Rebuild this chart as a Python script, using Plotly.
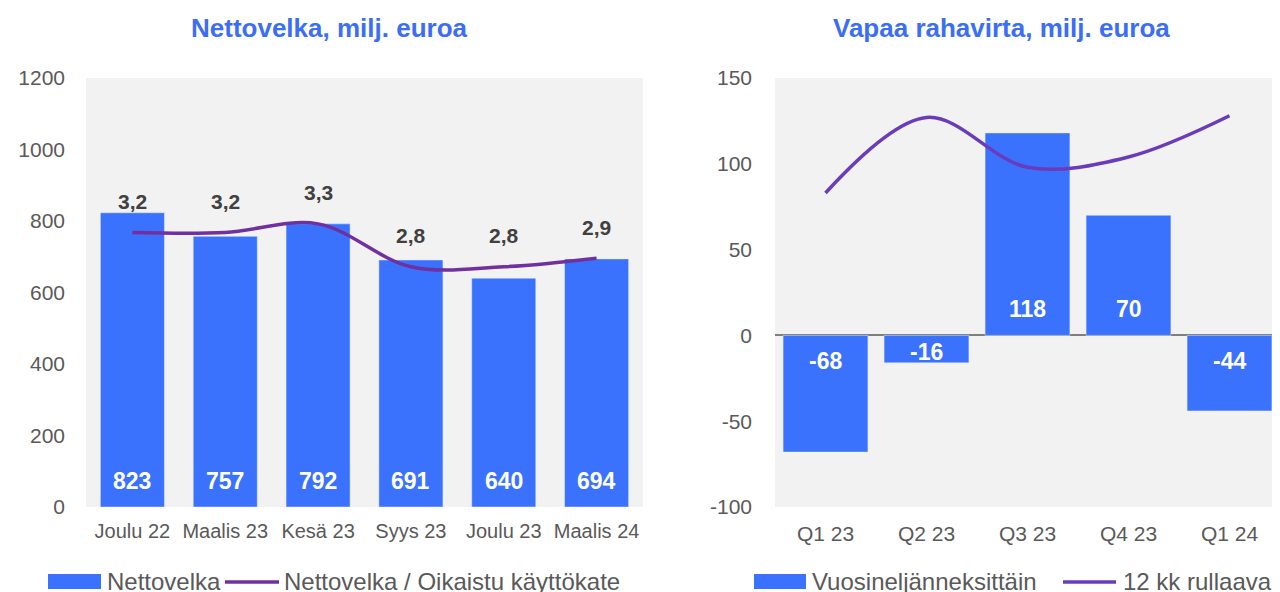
import plotly.graph_objects as go
from plotly.subplots import make_subplots

# ---- data ----
left_categories = ["Joulu 22", "Maalis 23", "Kesä 23", "Syys 23", "Joulu 23", "Maalis 24"]
net_debt = [823, 757, 792, 691, 640, 694]
debt_ratio = [3.2, 3.2, 3.3, 2.8, 2.8, 2.9]
left_ticks = [0, 200, 400, 600, 800, 1000, 1200]

right_categories = ["Q1 23", "Q2 23", "Q3 23", "Q4 23", "Q1 24"]
fcf_quarterly = [-68, -16, 118, 70, -44]
fcf_rolling = [83, 127, 98, 104, 128]
right_ticks = [-100, -50, 0, 50, 100, 150]

# ---- styles ----
BLUE = "#3a72fd"
PURPLE = "#7030a0"
PURPLE2 = "#6a3cbc"
TITLE_BLUE = "#3b6ef5"
TXT = "#595959"
FONT = "Liberation Sans, Arial, sans-serif"
W, H = 1280, 592
OFF = 8  # page body margin offset
FW, FH = W - OFF, H - OFF

def px(x):
    return (x - OFF) / FW

def py(y):
    return (H - y) / FH

ydom = [py(507), py(78)]

fig = make_subplots(rows=1, cols=2, specs=[[{"secondary_y": True}, {}]])

fig.add_trace(go.Bar(x=left_categories, y=net_debt, marker_color=BLUE, width=0.69,
                     name="Nettovelka", showlegend=False), row=1, col=1, secondary_y=False)
fig.add_trace(go.Scatter(x=left_categories, y=debt_ratio, mode="lines",
                         line=dict(color=PURPLE, width=3.5, shape="spline", smoothing=1.0),
                         name="Nettovelka / Oikaistu käyttökate", showlegend=False),
              row=1, col=1, secondary_y=True)
fig.add_trace(go.Bar(x=right_categories, y=fcf_quarterly, marker_color=BLUE, width=0.84,
                     name="Vuosineljänneksittäin", showlegend=False), row=1, col=2)
fig.add_trace(go.Scatter(x=right_categories, y=fcf_rolling, mode="lines",
                         line=dict(color=PURPLE2, width=3.5, shape="spline", smoothing=1.0),
                         name="12 kk rullaava", showlegend=False), row=1, col=2)

annotations = []
# bar labels left (inside base)
for c, v in zip(left_categories, net_debt):
    annotations.append(dict(x=c, y=0, xref="x", yref="y", text=f"<b>{v}</b>", showarrow=False,
                            yshift=26, xanchor="center", yanchor="middle",
                            font=dict(family=FONT, size=23, color="white")))
# ratio labels
for c, v in zip(left_categories, debt_ratio):
    annotations.append(dict(x=c, y=v, xref="x", yref="y2", text=f"<b>{v:.1f}</b>".replace(".", ","),
                            showarrow=False, yshift=31, xanchor="center", yanchor="middle",
                            font=dict(family=FONT, size=21, color="#404040")))
# bar labels right
scale_r = 429 / 250.0
for c, v in zip(right_categories, fcf_quarterly):
    half = abs(v) * scale_r / 2 + 2.5
    shift = min(26, half)
    annotations.append(dict(x=c, y=0, xref="x2", yref="y3", text=f"<b>{v}</b>", showarrow=False,
                            yshift=shift if v > 0 else -shift, xanchor="center", yanchor="middle",
                            font=dict(family=FONT, size=23, color="white")))
# titles
annotations.append(dict(x=px(329), y=py(28), xref="paper", yref="paper",
                        text="<b>Nettovelka, milj. euroa</b>", showarrow=False,
                        xanchor="center", yanchor="middle",
                        font=dict(family=FONT, size=26, color=TITLE_BLUE)))
annotations.append(dict(x=px(1001), y=py(28), xref="paper", yref="paper",
                        text="<b>Vapaa rahavirta, milj. euroa</b>", showarrow=False,
                        xanchor="center", yanchor="middle",
                        font=dict(family=FONT, size=26, color=TITLE_BLUE)))
# legend texts
for xt, t in [(105, "Nettovelka"), (282, "Nettovelka / Oikaistu käyttökate"),
              (810, "Vuosineljänneksittäin"), (1121, "12 kk rullaava")]:
    annotations.append(dict(x=px(xt), y=py(581), xref="paper", yref="paper", text=t,
                            showarrow=False, xanchor="left", yanchor="middle",
                            font=dict(family=FONT, size=24, color=TXT)))

shapes = [
    dict(type="rect", xref="paper", yref="paper", x0=px(48), x1=px(101), y0=py(589), y1=py(574),
         fillcolor=BLUE, line=dict(width=0)),
    dict(type="line", xref="paper", yref="paper", x0=px(225), x1=px(279), y0=py(582), y1=py(582),
         line=dict(color=PURPLE, width=3.5)),
    dict(type="rect", xref="paper", yref="paper", x0=px(754), x1=px(806), y0=py(589), y1=py(574),
         fillcolor=BLUE, line=dict(width=0)),
    dict(type="line", xref="paper", yref="paper", x0=px(1063), x1=px(1116), y0=py(582), y1=py(582),
         line=dict(color=PURPLE2, width=3.5)),
]

fig.update_layout(
    width=FW, height=FH, margin=dict(l=0, r=0, t=0, b=0, pad=0, autoexpand=False),
    paper_bgcolor="white", plot_bgcolor="#f2f2f2",
    showlegend=False,
    annotations=annotations, shapes=shapes,
    font=dict(family=FONT, color=TXT),
    xaxis=dict(domain=[px(86), px(643)], showgrid=False, zeroline=False, showline=False,
               tickfont=dict(family=FONT, size=20, color=TXT), ticks="", ticklabelstandoff=10,
               automargin=False),
    yaxis=dict(domain=ydom, range=[0, 1200], tickvals=left_ticks,
               ticktext=[str(t) for t in left_ticks], showgrid=False, zeroline=False,
               tickfont=dict(family=FONT, size=21, color=TXT), ticks="", ticklabelstandoff=20,
               automargin=False),
    yaxis2=dict(range=[0, 5], visible=False, overlaying="y", showgrid=False),
    xaxis2=dict(domain=[px(775), 1.0], showgrid=False, zeroline=False, showline=False,
                tickfont=dict(family=FONT, size=21, color=TXT), ticks="", ticklabelstandoff=12,
                automargin=False),
    yaxis3=dict(domain=ydom, range=[-100, 150], tickvals=right_ticks,
                ticktext=[str(t) for t in right_ticks], showgrid=False, zeroline=True,
                zerolinecolor="#7f7f7f", zerolinewidth=1.5,
                tickfont=dict(family=FONT, size=21, color=TXT), ticks="", ticklabelstandoff=22,
                automargin=False),
)

fig.write_html("out.html")
